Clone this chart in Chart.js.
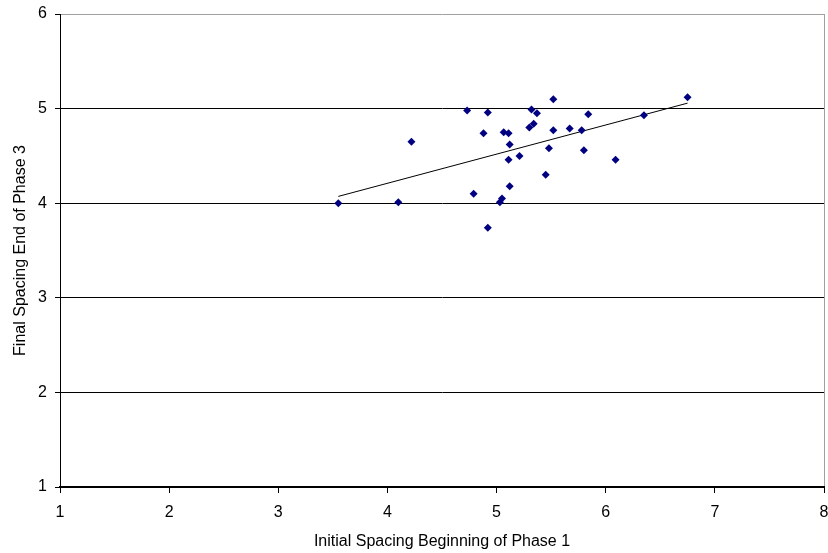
<!DOCTYPE html>
<html>
<head>
<meta charset="utf-8">
<script src="https://cdn.jsdelivr.net/npm/chart.js@4/dist/chart.umd.min.js"></script>
<style>
  html, body { margin: 0; padding: 0; background: #fff; }
  canvas { display: block; }
</style>
</head>
<body>
<canvas id="spacingChart" width="828" height="553"></canvas>
<script>
// initial spacing (phase 1 start) vs final spacing (phase 3 end)
const initialSpacing = [
  3.55, 4.10, 4.22, 4.73, 4.92, 4.88, 4.79, 4.92, 5.03, 5.05, 5.065,
  5.11, 5.12, 5.11, 5.12, 5.21, 5.32, 5.37, 5.30, 5.34, 5.52, 5.52,
  5.48, 5.45, 5.67, 5.78, 5.80, 5.84, 6.09, 6.35, 6.75
];
const finalSpacing = [
  4.00, 4.01, 4.65, 4.98, 4.96, 4.74, 4.10, 3.74, 4.01, 4.05, 4.75,
  4.74, 4.62, 4.46, 4.18, 4.50, 4.99, 4.95, 4.80, 4.84, 5.10, 4.77,
  4.58, 4.30, 4.79, 4.77, 4.56, 4.94, 4.46, 4.93, 5.12
];
const xTicks = [1, 2, 3, 4, 5, 6, 7, 8];
const yTicks = [1, 2, 3, 4, 5, 6];

const points = initialSpacing.map((x, i) => ({ x: x, y: finalSpacing[i] }));

// least squares fit across the observed x range
function linearFit(xs, ys) {
  const n = xs.length;
  const mx = xs.reduce((a, b) => a + b, 0) / n;
  const my = ys.reduce((a, b) => a + b, 0) / n;
  let sxy = 0, sxx = 0;
  xs.forEach((x, i) => { sxy += (x - mx) * (ys[i] - my); sxx += (x - mx) * (x - mx); });
  const slope = sxy / sxx;
  return { slope: slope, intercept: my - slope * mx };
}
const fit = linearFit(initialSpacing, finalSpacing);
const xMin = Math.min(...initialSpacing), xMax = Math.max(...initialSpacing);
const trend = [xMin, xMax].map(x => ({ x: x, y: fit.intercept + fit.slope * x }));

const FONT = "'Liberation Sans', Arial, sans-serif";

new Chart(document.getElementById("spacingChart"), {
  type: "scatter",
  data: {
    datasets: [
      {
        label: "Spacing",
        data: points,
        pointStyle: "rectRot",
        pointRadius: 4,
        backgroundColor: "#000080",
        borderColor: "#000080",
        borderWidth: 0
      },
      {
        label: "Linear fit",
        type: "line",
        data: trend,
        borderColor: "#000",
        borderWidth: 1,
        pointRadius: 0,
        fill: false
      }
    ]
  },
  options: {
    responsive: false,
    animation: false,
    layout: { padding: { top: 14, right: 3, left: 0, bottom: 0 } },
    plugins: { legend: { display: false }, tooltip: { enabled: false } },
    scales: {
      x: {
        type: "linear",
        min: 1, max: 8,
        afterBuildTicks: axis => { axis.ticks = xTicks.map(v => ({ value: v })); },
        // let the last label run off the right edge instead of shrinking the plot
        afterFit: axis => { axis.height = 66; axis.paddingRight = 0; axis.paddingLeft = 0; },
        border: { color: "#000", width: 2 },
        grid: {
          color: ctx => (ctx.tick && ctx.tick.value === 8 ? "#a0a0a0" : "rgba(0,0,0,0)"),
          tickColor: "#000",
          tickLength: 6,
          lineWidth: 1
        },
        ticks: { color: "#000", font: { family: FONT, size: 16 }, padding: 10, maxRotation: 0 },
        title: {
          display: true,
          text: "Initial Spacing Beginning of Phase 1",
          color: "#000",
          font: { family: FONT, size: 16 },
          padding: { top: 4, bottom: 2 }
        }
      },
      y: {
        type: "linear",
        min: 1, max: 6,
        afterBuildTicks: axis => { axis.ticks = yTicks.map(v => ({ value: v })); },
        afterFit: axis => { axis.width = 60; axis.paddingTop = 0; axis.paddingBottom = 0; },
        border: { color: "#000", width: 1 },
        grid: {
          color: ctx => (ctx.tick && ctx.tick.value === 6 ? "#a0a0a0" : "#000"),
          tickColor: "#000",
          tickLength: 5,
          lineWidth: 1
        },
        ticks: { color: "#000", font: { family: FONT, size: 16 }, padding: 8 },
        title: {
          display: true,
          text: "Final Spacing End of Phase 3",
          color: "#000",
          font: { family: FONT, size: 16 },
          padding: { top: 11, bottom: 4 }
        }
      }
    }
  }
});
</script>
</body>
</html>
